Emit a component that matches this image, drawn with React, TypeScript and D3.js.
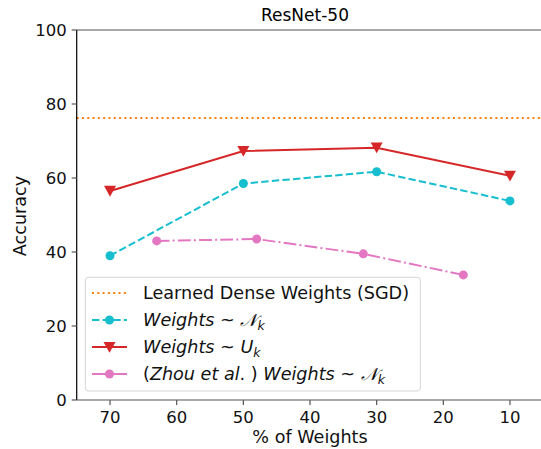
import React from "react";
import * as d3 from "d3";

const denseAcc = 76.2;
const nkX = [70, 50, 30, 10];
const nkY = [39.0, 58.5, 61.7, 53.8];
const ukX = [70, 50, 30, 10];
const ukY = [56.5, 67.3, 68.2, 60.6];
const zhouX = [63, 48, 32, 17];
const zhouY = [43.0, 43.5, 39.5, 33.8];
const xTicks = [70, 60, 50, 40, 30, 20, 10];
const yTicks = [0, 20, 40, 60, 80, 100];

const W = 541, H = 449;
const L = 76.7, R = 543.3, T = 30, B = 400;
const FONT = "DejaVu Sans";
const TICK_FS = 16.5;
const LAB_FS = 17.6;
const LEG_FS = 17.6;
const TITLE_FS = 17;

const cyan = "#17becf", red = "#d62728", pink = "#e377c2", orange = "#ff7f0e";

export default function App() {
  const x = d3.scaleLinear().domain([75, 5]).range([L, R]);
  const y = d3.scaleLinear().domain([0, 100]).range([B, T]);
  const line = d3.line<[number, number]>().x(d => x(d[0])).y(d => y(d[1]));
  const nk = nkX.map((v, i) => [v, nkY[i]] as [number, number]);
  const uk = ukX.map((v, i) => [v, ukY[i]] as [number, number]);
  const zh = zhouX.map((v, i) => [v, zhouY[i]] as [number, number]);
  const tri = (cx: number, cy: number, s = 6) => `M${cx - s},${cy - s * 0.85}L${cx + s},${cy - s * 0.85}L${cx},${cy + s * 0.95}Z`;

  const legendItems = [0, 1, 2, 3];
  const lx0 = 92, lx1 = 127, tx = 143;
  const ly = (i: number) => 293 + i * 27;

  const math = (prefix: string | null, sym: string) => (
    <>
      {prefix && <tspan fontStyle="normal">(</tspan>}
      {prefix && <tspan fontStyle="italic">{prefix}</tspan>}
      {prefix && <tspan fontStyle="normal">. ) </tspan>}
      <tspan fontStyle="italic">Weights</tspan>
      <tspan fontStyle="normal"> ~ </tspan>
      {sym === "N" ? (
        <tspan fontFamily="DejaVu Serif" fontStyle="italic">𝒩</tspan>
      ) : (
        <tspan fontStyle="italic">U</tspan>
      )}
      <tspan fontStyle="italic" fontSize={12.5} dy={4}>k</tspan>
    </>
  );

  return (
    <svg width={W} height={H} style={{ position: "absolute", left: 0, top: 0 }} fontFamily={FONT}>
      <rect width={W} height={H} fill="#fff" />
      <text x={305} y={21} textAnchor="middle" fontSize={TITLE_FS} fill="#000">ResNet-50</text>
      {/* dense line */}
      <line x1={L} x2={R} y1={y(denseAcc)} y2={y(denseAcc)} stroke={orange} strokeWidth={2} strokeDasharray="2,3.3" />
      {/* series */}
      <path d={line(nk)!} fill="none" stroke={cyan} strokeWidth={2} strokeDasharray="7.4,3.2" />
      {nk.map((d, i) => <circle key={i} cx={x(d[0])} cy={y(d[1])} r={4.5} fill={cyan} />)}
      <path d={line(uk)!} fill="none" stroke={red} strokeWidth={2} />
      {uk.map((d, i) => <path key={i} d={tri(x(d[0]), y(d[1]))} fill={red} />)}
      <path d={line(zh)!} fill="none" stroke={pink} strokeWidth={2} strokeDasharray="12.8,3.2,2,3.2" />
      {zh.map((d, i) => <circle key={i} cx={x(d[0])} cy={y(d[1])} r={4.5} fill={pink} />)}
      {/* spines */}
      <line x1={L} x2={R} y1={T} y2={T} stroke="#555" strokeWidth={1.2} />
      <line x1={L} x2={R} y1={B} y2={B} stroke="#555" strokeWidth={1.2} />
      <line x1={L} x2={L} y1={T} y2={B} stroke="#000" strokeWidth={1.2} />
      {/* y ticks */}
      {yTicks.map(t => (
        <g key={t}>
          <line x1={L - 5} x2={L} y1={y(t)} y2={y(t)} stroke="#555" strokeWidth={1.2} />
          <text x={L - 10} y={y(t)} dy="0.36em" textAnchor="end" fontSize={TICK_FS} fill="#111">{t}</text>
        </g>
      ))}
      {xTicks.map(t => (
        <g key={t}>
          <line x1={x(t)} x2={x(t)} y1={B} y2={B + 5} stroke="#555" strokeWidth={1.2} />
          <text x={x(t)} y={B + 23} textAnchor="middle" fontSize={TICK_FS} fill="#111">{t}</text>
        </g>
      ))}
      <text x={310} y={443} textAnchor="middle" fontSize={LAB_FS} fill="#111">% of Weights</text>
      <text transform={`translate(26,216) rotate(-90)`} textAnchor="middle" fontSize={LAB_FS} fill="#111">Accuracy</text>
      {/* legend */}
      <rect x={85.3} y={277.3} width={335} height={113.7} rx={3} fill="#fff" fillOpacity={0.8} stroke="#d5d5d5" strokeWidth={1} />
      {legendItems.map(i => {
        const yy = ly(i);
        const mx = (lx0 + lx1) / 2;
        return (
          <g key={i}>
            {i === 0 && <line x1={lx0} x2={lx1} y1={yy} y2={yy} stroke={orange} strokeWidth={2} strokeDasharray="2,3.3" />}
            {i === 1 && <><line x1={lx0} x2={lx1} y1={yy} y2={yy} stroke={cyan} strokeWidth={2} strokeDasharray="7.4,3.2" /><circle cx={mx} cy={yy} r={4.5} fill={cyan} /></>}
            {i === 2 && <><line x1={lx0} x2={lx1} y1={yy} y2={yy} stroke={red} strokeWidth={2} /><path d={tri(mx, yy)} fill={red} /></>}
            {i === 3 && <><line x1={lx0} x2={lx1} y1={yy} y2={yy} stroke={pink} strokeWidth={2} /><circle cx={mx} cy={yy} r={4.5} fill={pink} /></>}
            <text x={tx} y={yy} dy="0.36em" fontSize={LEG_FS} fill="#111">
              {i === 0 && "Learned Dense Weights (SGD)"}
              {i === 1 && math(null, "N")}
              {i === 2 && math(null, "U")}
              {i === 3 && math("Zhou et al", "N")}
            </text>
          </g>
        );
      })}
    </svg>
  );
}
